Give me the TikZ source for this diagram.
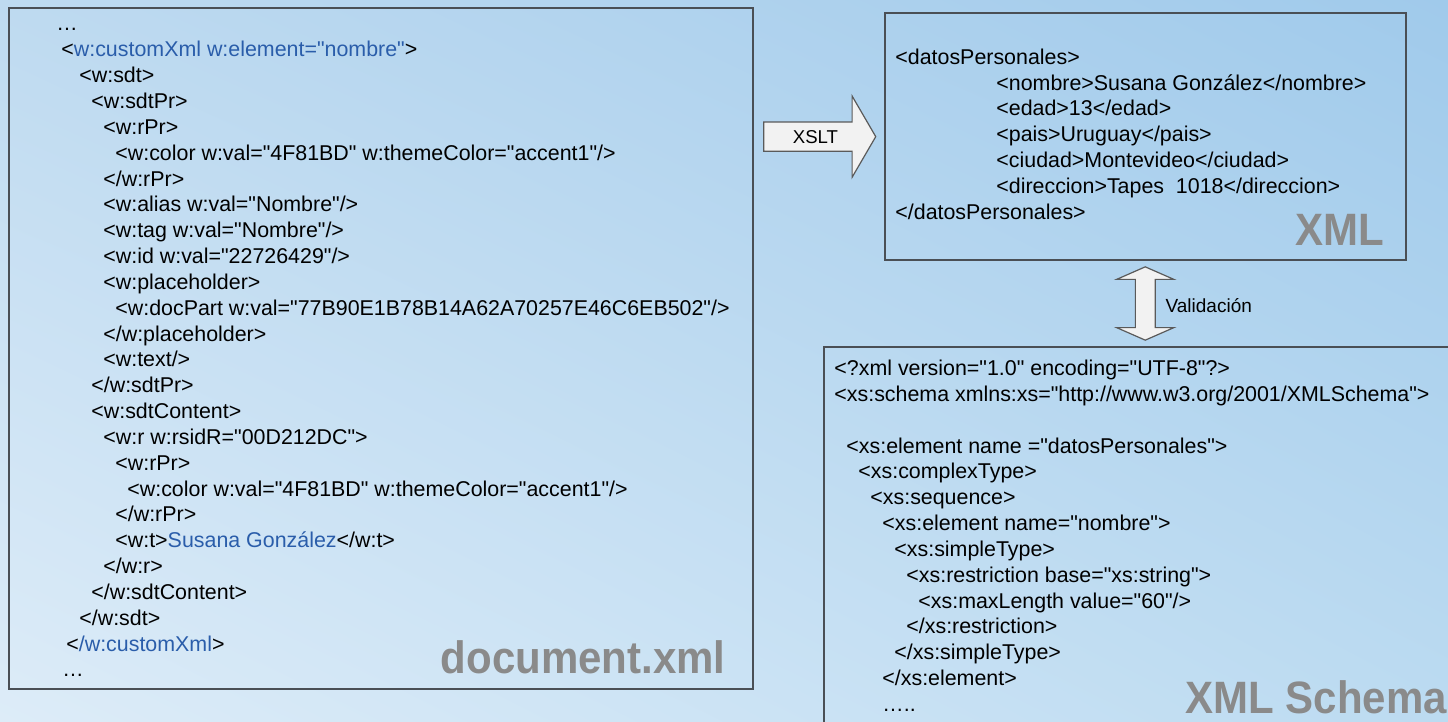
\documentclass[tikz,border=0pt]{standalone}
\usepackage{fontspec}
\setmainfont{Liberation Sans}[Ligatures=TeXOff]
\usetikzlibrary{shapes.arrows,shadings,calc}
\definecolor{bgUL}{HTML}{BEDAF0}
\definecolor{bgUR}{HTML}{A0CAEB}
\definecolor{bgLL}{HTML}{DDECF8}
\definecolor{bgLR}{HTML}{BCDBF1}
\definecolor{boxgray}{HTML}{4A4F55}
\definecolor{namegray}{HTML}{8A8A8A}
\definecolor{xmlblue}{HTML}{2A5DAA}
\definecolor{arrowgray}{HTML}{5A5A5A}
\definecolor{arrowfill}{HTML}{F2F2F2}
\newcommand{\codefont}{\fontsize{10.7}{12.92}\selectfont}
\newcommand{\bl}[1]{\textcolor{xmlblue}{#1}}
\newcommand{\ind}[1]{\hspace*{#1pt}}
\newcommand{\bigname}[1]{\scalebox{1}[1.08]{#1}}

\begin{document}
\begin{tikzpicture}[x=0.5pt, y=-0.5pt,
  filebox/.style={draw=boxgray, line width=1pt, anchor=north west, inner sep=0pt, outer sep=0pt},
  code/.style={anchor=base west, inner sep=0pt, font=\codefont},
  filename/.style={inner sep=0pt, text=namegray, font=\bfseries\fontsize{21}{21}\selectfont},
  xsltarrow/.style={single arrow, draw=arrowgray, fill=arrowfill, line width=0.6pt,
    single arrow tip angle=119.6, single arrow head extend=13pt, minimum height=56pt,
    text height=6.8pt, text depth=0pt, inner ysep=3.6pt, inner xsep=0pt,
    font=\fontsize{9.3}{10}\selectfont},
  validarrow/.style={double arrow, draw=arrowgray, fill=arrowfill, line width=0.6pt,
    double arrow tip angle=132.7, double arrow head extend=9.35pt, minimum height=36.65pt,
    inner ysep=4.65pt, inner xsep=0pt, rotate=90}]
\clip (0,0) rectangle (1448,722);
\shade[upper left=bgUL, upper right=bgUR, lower left=bgLL, lower right=bgLR] (0,0) rectangle (1448,722);

\node[filebox, minimum width=371.75pt, minimum height=340.25pt] (doc) at (9,8) {};
\node[filebox, minimum width=260.75pt, minimum height=123.35pt] (xml) at (884.5,13.3) {};
\node[filebox, minimum width=318pt, minimum height=196.5pt] (xsd) at (824,347) {};

\node[code] (doccode) at ([shift={(47,23)}]doc.north west) {\begin{tabular}[t]{@{}l@{}}
\ind{0}…\\
\ind{2.5}<\bl{w:customXml w:element="nombre"}>\\
\ind{11.5}<w:sdt>\\
\ind{17.5}<w:sdtPr>\\
\ind{23.5}<w:rPr>\\
\ind{29.5}<w:color w:val="4F81BD" w:themeColor="accent1"/>\\
\ind{23.5}</w:rPr>\\
\ind{23.5}<w:alias w:val="Nombre"/>\\
\ind{23.5}<w:tag w:val="Nombre"/>\\
\ind{23.5}<w:id w:val="22726429"/>\\
\ind{23.5}<w:placeholder>\\
\ind{29.5}<w:docPart w:val="77B90E1B78B14A62A70257E46C6EB502"/>\\
\ind{23.5}</w:placeholder>\\
\ind{23.5}<w:text/>\\
\ind{17.5}</w:sdtPr>\\
\ind{17.5}<w:sdtContent>\\
\ind{23.5}<w:r w:rsidR="00D212DC">\\
\ind{29.5}<w:rPr>\\
\ind{35.5}<w:color w:val="4F81BD" w:themeColor="accent1"/>\\
\ind{29.5}</w:rPr>\\
\ind{29.5}<w:t>\bl{Susana González}</w:t>\\
\ind{23.5}</w:r>\\
\ind{17.5}</w:sdtContent>\\
\ind{11.5}</w:sdt>\\
\ind{5}<\bl{/w:customXml}>\\
\ind{3}…
\end{tabular}};

\node[code] (xmlcode) at ([shift={(10.5,51)}]xml.north west) {\begin{tabular}[t]{@{}l@{}}
<datosPersonales>\\
\ind{50.5}<nombre>Susana González</nombre>\\
\ind{50.5}<edad>13</edad>\\
\ind{50.5}<pais>Uruguay</pais>\\
\ind{50.5}<ciudad>Montevideo</ciudad>\\
\ind{50.5}<direccion>Tapes\ \ 1018</direccion>\\
</datosPersonales>
\end{tabular}};

\node[code] (xsdcode) at ([shift={(10,28.5)}]xsd.north west) {\begin{tabular}[t]{@{}l@{}}
<?xml version="1.0" encoding="UTF-8"?>\\
<xs:schema xmlns:xs="http://www.w3.org/2001/XMLSchema">\\
\\
\ind{6}<xs:element name ="datosPersonales">\\
\ind{12}<xs:complexType>\\
\ind{18}<xs:sequence>\\
\ind{24}<xs:element name="nombre">\\
\ind{30}<xs:simpleType>\\
\ind{36}<xs:restriction base="xs:string">\\
\ind{42}<xs:maxLength value="60"/>\\
\ind{36}</xs:restriction>\\
\ind{30}</xs:simpleType>\\
\ind{24}</xs:element>\\
\ind{24}…..
\end{tabular}};

\node[filename, anchor=base east] (docname) at ([shift={(-26.5,-15.5)}]doc.south east) {\bigname{document.xml}};
\node[filename, anchor=base east] (xmlname) at ([shift={(-21,-14)}]xml.south east) {\bigname{XML}};
\node[filename, anchor=base west] (xsdname) at ([shift={(361,366.3)}]xsd.north west) {\bigname{XML Schema}};

\node[xsltarrow, xshift=-1.5pt] (xslt) at ($(doc.east |- xml.west)!0.5!(xml.west)$) {XSLT};
\node[validarrow] (valid) at ($(xml.south)!0.5!(xsd.north -| xml.south)$) {};
\node[anchor=base west, inner sep=0pt, font=\fontsize{9.5}{10}\selectfont] (validlbl) at ([shift={(20,8.6)}]valid.center) {Validación};
\end{tikzpicture}
\end{document}
